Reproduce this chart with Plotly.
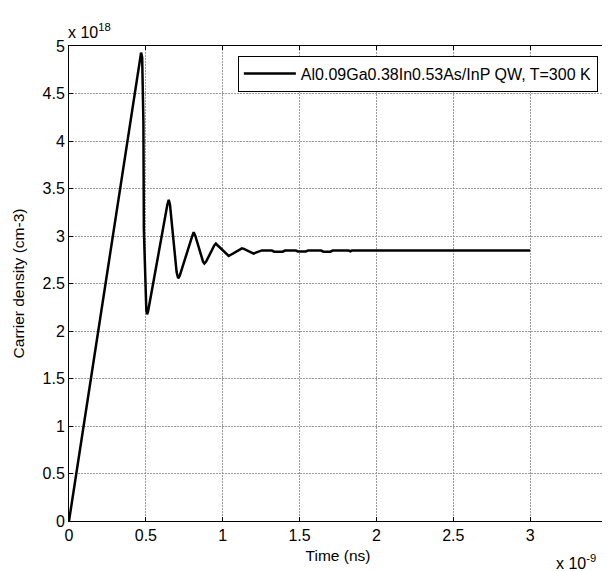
import plotly.graph_objects as go

# Time in units of 1e-9 s, carrier density in units of 1e18 cm^-3
time_ns = [0.0, 0.1, 0.2, 0.3, 0.4, 0.469, 0.476, 0.481, 0.484, 0.487, 0.497, 0.503,
           0.508, 0.515, 0.64, 0.649, 0.657, 0.70, 0.71, 0.72, 0.80, 0.811, 0.822,
           0.872, 0.881, 0.892, 0.945, 0.956, 0.968, 1.028, 1.039, 1.05, 1.112, 1.125,
           1.138, 1.19, 1.201, 1.215, 1.255, 1.32, 1.335, 1.39, 1.405, 1.475, 1.49,
           1.54, 1.555, 1.64, 1.655, 1.70, 1.715, 1.82, 1.83, 1.84, 3.0]
density = [0.0, 1.05, 2.1, 3.15, 4.2, 4.93, 4.88, 4.6, 4.2, 3.07, 2.45, 2.22,
           2.175, 2.21, 3.33, 3.38, 3.33, 2.62, 2.555, 2.58, 2.99, 3.04, 3.0,
           2.73, 2.71, 2.73, 2.90, 2.92, 2.90, 2.80, 2.79, 2.80, 2.865, 2.87,
           2.865, 2.82, 2.815, 2.825, 2.848, 2.847, 2.835, 2.835, 2.847, 2.847, 2.838,
           2.838, 2.847, 2.847, 2.835, 2.835, 2.847, 2.847, 2.838, 2.847, 2.847]

x_ticks = [0, 0.5, 1, 1.5, 2, 2.5, 3, 3.5]
x_ticktext = ["0", "0.5", "1", "1.5", "2", "2.5", "3", "3.5"]
y_ticks = [0, 0.5, 1, 1.5, 2, 2.5, 3, 3.5, 4, 4.5, 5]
y_ticktext = ["0", "0.5", "1", "1.5", "2", "2.5", "3", "3.5", "4", "4.5", "5"]

series_name = "Al0.09Ga0.38In0.53As/InP QW, T=300 K"
x_title = "Time (ns)"
y_title = "Carrier density (cm-3)"

FONT = "Liberation Sans, Arial, Helvetica, sans-serif"

fig = go.Figure()
fig.add_trace(go.Scatter(x=time_ns, y=density, mode="lines", name=series_name,
                         line=dict(color="black", width=2.5)))

axis_common = dict(
    showline=True, linecolor="black", linewidth=1, mirror="ticks",
    ticks="inside", ticklen=4, tickcolor="black", tickwidth=1,
    showgrid=True, gridcolor="#9a9a9a", griddash="2px,1px", gridwidth=1,
    zeroline=False, tickfont=dict(family=FONT, size=16, color="black"),
    automargin=False,
)

fig.update_layout(
    width=610, height=571,
    margin=dict(l=61, r=11, t=38, b=58),
    paper_bgcolor="white", plot_bgcolor="white",
    font=dict(family=FONT, size=16, color="black"),
    xaxis=dict(range=[0, 3.5], tickvals=x_ticks, ticktext=x_ticktext,
               title=dict(text=x_title, font=dict(family=FONT, size=15.5), standoff=6),
               **axis_common),
    yaxis=dict(range=[0, 5], tickvals=y_ticks, ticktext=y_ticktext,
               title=dict(text=y_title, font=dict(family=FONT, size=15.5), standoff=14),
               **axis_common),
    showlegend=True,
    legend=dict(x=0.983, xanchor="right", y=0.98, yanchor="top",
                bgcolor="white", bordercolor="black", borderwidth=1,
                itemwidth=52,
                font=dict(family=FONT, size=16, color="black")),
    annotations=[
        dict(text="x 10<sup>18</sup>", xref="paper", yref="paper", x=0, y=1,
             xanchor="left", yanchor="bottom", showarrow=False, yshift=3, xshift=-3,
             font=dict(family=FONT, size=16)),
        dict(text="x 10<sup>-9</sup>", xref="paper", yref="paper", x=1, y=0,
             xanchor="right", yanchor="bottom", showarrow=False, yshift=-53, xshift=-9,
             font=dict(family=FONT, size=16)),
    ],
)

fig.write_html("out.html")
